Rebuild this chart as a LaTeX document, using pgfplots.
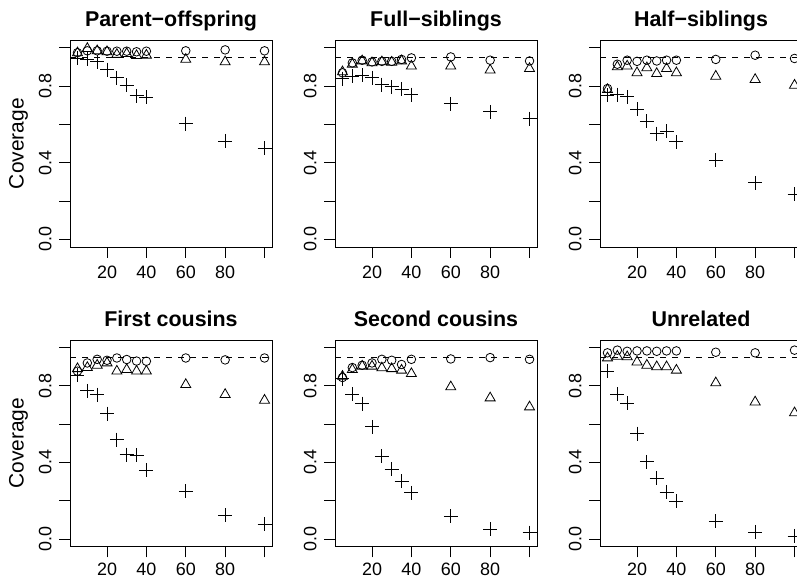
\documentclass[border=0pt]{standalone}
\usepackage{pgfplots}
\pgfplotsset{compat=1.18}
\usepackage{pgfplotstable}
\usepackage{fontspec}
\setmainfont{Liberation Sans}

\pgfplotstableread{
x circ tri plus
5 0.975 0.974 0.945
10 0.985 0.997 0.940
15 0.985 0.985 0.927
20 0.983 0.980 0.887
25 0.983 0.966 0.845
30 0.983 0.970 0.805
35 0.980 0.960 0.750
40 0.983 0.962 0.742
60 0.985 0.940 0.605
80 0.990 0.927 0.514
100 0.985 0.927 0.476
}\tPO
\pgfplotstableread{
x circ tri plus
5 0.870 0.875 0.840
10 0.922 0.915 0.852
15 0.936 0.932 0.857
20 0.927 0.922 0.845
25 0.930 0.927 0.809
30 0.930 0.925 0.797
35 0.940 0.932 0.784
40 0.948 0.905 0.756
60 0.953 0.905 0.708
80 0.936 0.884 0.666
100 0.932 0.892 0.631
}\tFS
\pgfplotstableread{
x circ tri plus
5 0.788 0.782 0.753
10 0.915 0.901 0.756
15 0.936 0.905 0.744
20 0.930 0.870 0.680
25 0.936 0.896 0.617
30 0.932 0.866 0.552
35 0.936 0.892 0.565
40 0.936 0.870 0.509
60 0.940 0.852 0.413
80 0.962 0.835 0.295
100 0.945 0.805 0.235
}\tHS
\pgfplotstableread{
x circ tri plus
5 0.877 0.890 0.856
10 0.920 0.896 0.774
15 0.939 0.908 0.755
20 0.934 0.920 0.655
25 0.946 0.877 0.519
30 0.938 0.885 0.441
35 0.930 0.877 0.437
40 0.929 0.877 0.359
60 0.946 0.807 0.249
80 0.936 0.755 0.124
100 0.946 0.725 0.077
}\tFC
\pgfplotstableread{
x circ tri plus
5 0.844 0.850 0.838
10 0.896 0.885 0.756
15 0.908 0.903 0.708
20 0.920 0.903 0.586
25 0.939 0.894 0.432
30 0.934 0.890 0.364
35 0.912 0.882 0.302
40 0.939 0.864 0.241
60 0.941 0.795 0.119
80 0.948 0.737 0.051
100 0.939 0.690 0.033
}\tSC
\pgfplotstableread{
x circ tri plus
5 0.973 0.946 0.878
10 0.987 0.955 0.756
15 0.981 0.952 0.711
20 0.983 0.925 0.551
25 0.983 0.908 0.403
30 0.981 0.900 0.319
35 0.983 0.900 0.246
40 0.983 0.882 0.199
60 0.976 0.816 0.092
80 0.973 0.716 0.037
100 0.987 0.659 0.016
}\tUN

\pgfplotsset{
  panel/.style={
    scale only axis, width=202bp, height=206.7bp, anchor=south west,
    xmin=1.2, xmax=103.8, ymin=-0.04, ymax=1.04,
    axis line style={line width=0.9bp}, 
    every tick/.style={line width=0.9bp, black},
    tick align=outside, major tick length=10.7bp,
    xtick={20,40,60,80,100}, xticklabels={20,40,60,80,{}},
    ytick={0,0.2,0.4,0.6,0.8,1.0}, yticklabels={0.0,,0.4,,0.8,},
    xtick pos=bottom, ytick pos=left,
    tick label style={font=\fontsize{18}{20}\selectfont},
    /pgf/number format/assume math mode=true,
    xticklabel shift=8bp, yticklabel shift=7.6bp,
    xticklabel style={anchor=north, inner sep=0pt},
    yticklabel style={rotate=90, anchor=south, inner sep=0pt},
    title style={at={(axis description cs:0.5,1)}, anchor=base, yshift=8bp,
      font=\bfseries\fontsize{21.5}{24}\selectfont, inner sep=0pt},
    ylabel style={at={(axis description cs:-0.255,0.5)}, anchor=center,
      font=\fontsize{21}{24}\selectfont, inner sep=0pt},
    clip=false,
  },
  bottomrow/.style={xticklabel shift=5.5bp},
  pc/.style={only marks, mark=o, mark size=4.3bp, mark options={line width=0.8bp, draw=black, fill=none}},
  pt/.style={only marks, mark=triangle, mark size=5.8bp, mark options={line width=0.8bp, draw=black, fill=none}},
  pp/.style={only marks, mark=+, mark size=7bp, mark options={line width=0.9bp, draw=black}},
  ref/.style={black, dash pattern=on 6bp off 6bp, line width=0.8bp},
}

\newcommand{\panel}[1]{%
  \addplot[ref] coordinates {(1.2,0.95) (103.8,0.95)};
  \addplot[pc] table[x=x, y=circ] {#1};
  \addplot[pt] table[x=x, y=tri] {#1};
  \addplot[pp] table[x=x, y=plus] {#1};
}

\begin{document}
\begin{tikzpicture}
\useasboundingbox (0,0) rectangle (797bp,580bp);
\begin{axis}[panel, at={(70bp,333bp)}, title={Parent−offspring}, ylabel={Coverage}]
\panel{\tPO}
\end{axis}
\begin{axis}[panel, at={(335bp,333bp)}, title={Full−siblings}]
\panel{\tFS}
\end{axis}
\begin{axis}[panel, at={(600bp,333bp)}, title={Half−siblings}]
\panel{\tHS}
\end{axis}
\begin{axis}[panel, bottomrow, at={(70bp,33.3bp)}, title={First cousins}, ylabel={Coverage}]
\panel{\tFC}
\end{axis}
\begin{axis}[panel, bottomrow, at={(335bp,33.3bp)}, title={Second cousins}]
\panel{\tSC}
\end{axis}
\begin{axis}[panel, bottomrow, at={(600bp,33.3bp)}, title={Unrelated}]
\panel{\tUN}
\end{axis}
\end{tikzpicture}
\end{document}
